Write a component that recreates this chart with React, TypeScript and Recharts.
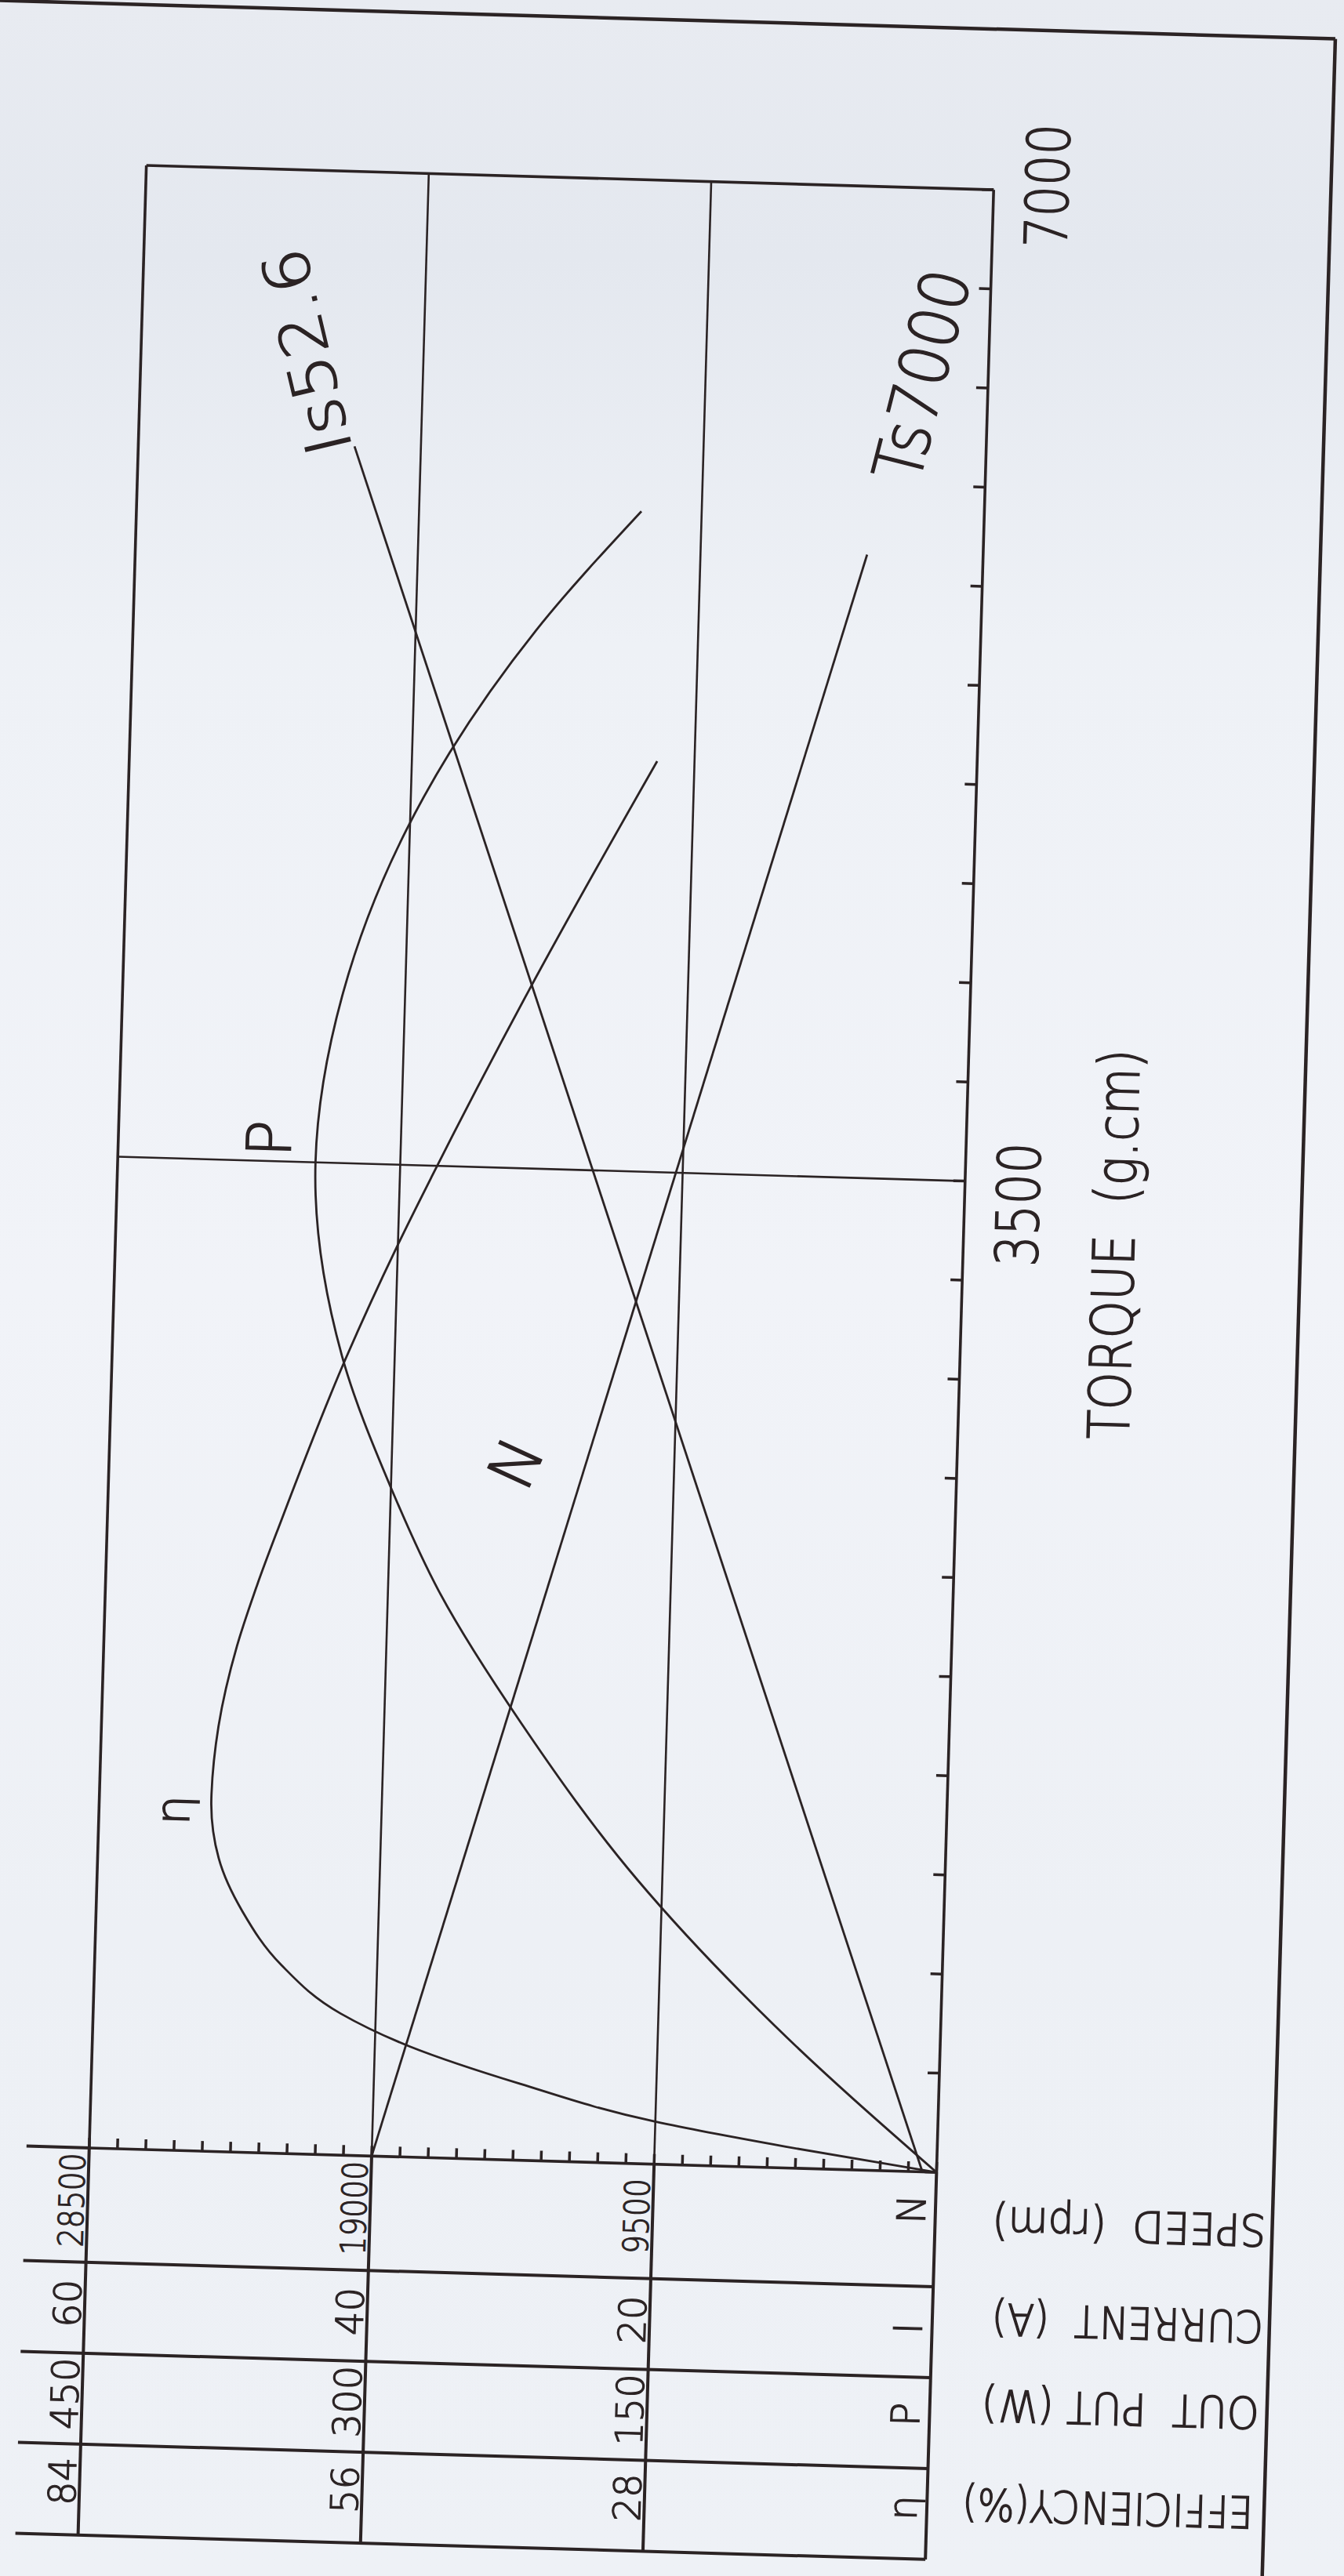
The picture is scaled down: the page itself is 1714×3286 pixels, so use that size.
import React from 'react';
import { LineChart, Line, XAxis, YAxis, ReferenceLine } from 'recharts';

// ---------------- data ----------------
// torque axis (g.cm)
const torqueTicks = [0, 350, 700, 1050, 1400, 1750, 2100, 2450, 2800, 3150, 3500, 3850, 4200, 4550, 4900, 5250, 5600, 5950, 6300, 6650, 7000];
const torqueLabels = [3500, 7000];

// value axes (shared vertical scale)
const speedMinorTicks = [0, 950, 1900, 2850, 3800, 4750, 5700, 6650, 7600, 8550, 9500, 10450, 11400, 12350, 13300, 14250, 15200, 16150, 17100, 18050, 19000, 19950, 20900, 21850, 22800, 23750, 24700, 25650, 26600, 27550, 28500];
const speedTicks = [0, 9500, 19000, 28500];
const currentTicks = [0, 20, 40, 60];
const outputTicks = [0, 150, 300, 450];
const efficiencyTicks = [0, 28, 56, 84];
const rowLetters = ['N', 'I', 'P', 'η'];
const rowTitles = ['SPEED  (rpm)', 'CURRENT  (A)', 'OUT  PUT (W)', 'EFFICIENCY(%)'];

// curves: torque (g.cm) -> value
const speedTorque = [0, 5700];
const speedRpm = [19000, 3900];
const currentTorque = [0, 6030];
const currentAmp = [1.0, 44.7];
const outputTorque = [0, 500, 1000, 1540, 2000, 2360, 2820, 3500, 4100, 4680, 4960, 5400, 5830];
const outputWatt = [0, 88, 163, 227, 273, 300, 328, 345, 333, 302, 280, 236, 182];
const effTorque = [0, 75, 150, 270, 390, 500, 665, 850, 1035, 1245, 1500, 1785, 2000, 2230, 2815, 3210, 3465, 4125, 4950];
const effPct = [0, 15, 28, 41.5, 52.5, 59.5, 65.5, 69.5, 72, 72.9, 72.4, 70.8, 69.0, 66.8, 60.8, 56.1, 52.8, 43.8, 31.7];

const stallCurrentLabel = 'Is52.6';
const stallTorqueLabel = 'Ts7000';
const torqueTitle = 'TORQUE  (g.cm)';

const zip = (ts: number[], vs: number[]) => ts.map((t, i) => ({ t, v: vs[i] }));
const speedData = zip(speedTorque, speedRpm);
const currentData = zip(currentTorque, currentAmp);
const outputData = zip(outputTorque, outputWatt);
const effData = zip(effTorque, effPct);

// ---------------- style / layout ----------------
const INK = '#2b2324';
const FONT = '"DejaVu Sans", "Liberation Sans", Arial, sans-serif';
const CW = 3400;
const CH = 1800;
const MARGIN = { top: 210, right: 276, bottom: 209, left: 94 };
const PL = MARGIN.left + 500; // plot left edge (original frame)

const TXT = { fill: INK, fontFamily: FONT, fontWeight: 200, stroke: INK, strokeWidth: 1.5 } as any;

const colValues = [speedTicks, currentTicks, outputTicks, efficiencyTicks];
const colLabelDX = [-67, -199, -314, -426];
const colLetterDX = [-48, -200, -310, -429];

function TorqueTick(props: any) {
  const { x, y, payload } = props;
  const v = payload.value;
  const shift = v === 3500 ? -28 : 7;
  return (
    <g>
      <line x1={x} y1={y} x2={x} y2={y - 15} stroke={INK} strokeWidth={3.5} />
      {torqueLabels.includes(v) && (
        <text x={x + shift} y={y + 95} textAnchor="middle" fontSize={75} textLength={158}
          lengthAdjust="spacingAndGlyphs" {...TXT}>{v}</text>
      )}
    </g>
  );
}

function ValueTick(props: any) {
  const { y, payload } = props;
  const x = PL;
  const i = speedTicks.indexOf(payload.value);
  return (
    <g>
      <line x1={x} y1={y} x2={x + 13} y2={y} stroke={INK} strokeWidth={3.5} />
      {i >= 0 && <line x1={x - 494} y1={y} x2={x} y2={y} stroke={INK} strokeWidth={4} />}
      {i > 0 && colValues.map((arr, c) => {
        const s = String(arr[i]);
        return (
          <text key={c} x={x + colLabelDX[c]} y={y - 5} textAnchor="middle" {...TXT}
            strokeWidth={1.2} fontSize={c === 0 ? 44 : 48}
            {...(c === 0 ? { textLength: 24 * s.length, lengthAdjust: 'spacingAndGlyphs' } : {})}>{s}</text>
        );
      })}
      {i === 0 && rowLetters.map((L, c) => (
        <text key={c} x={x + colLetterDX[c]} y={y - 13} textAnchor="middle" {...TXT}
          strokeWidth={1.2} fontSize={50}>{L}</text>
      ))}
    </g>
  );
}

function Overlay() {
  const titleBase = [552, 429, 319, 192];
  const titleStart = [1713, 1713, 1711, 1707];
  const titleLen = [349, 346, 354, 371];
  return (
    <svg width={CW} height={CH} style={{ position: 'absolute', left: 0, top: 0, overflow: 'visible', pointerEvents: 'none' }}>
      {/* paper frame */}
      <line x1={3329} y1={-150} x2={3329} y2={1721} stroke={INK} strokeWidth={4.5} />
      <line x1={-150} y1={1721} x2={3329} y2={1721} stroke={INK} strokeWidth={4.5} />
      {/* table column separators */}
      <line x1={PL} y1={130} x2={PL} y2={212} stroke={INK} strokeWidth={4} />
      {[448, 332, 216, 100].map((cx) => (
        <line key={cx} x1={cx} y1={130} x2={cx} y2={1291} stroke={INK} strokeWidth={4} />
      ))}
      {/* column titles */}
      {rowTitles.map((t, c) => (
        <text key={t} x={0} y={0} transform={`translate(${titleBase[c]} ${titleStart[c]}) rotate(-90)`}
          fontSize={56} textLength={titleLen[c]} lengthAdjust="spacingAndGlyphs"
          style={{ whiteSpace: 'pre' }} {...TXT}>{t}</text>
      ))}
      {/* torque axis title */}
      <text x={1784} y={1509} textAnchor="middle" fontSize={73} textLength={498}
        lengthAdjust="spacingAndGlyphs" style={{ whiteSpace: 'pre' }} {...TXT}>{torqueTitle}</text>
      {/* curve labels */}
      <text x={0} y={0} transform="translate(2770 483) rotate(-15)" fontSize={80} textLength={268}
        lengthAdjust="spacingAndGlyphs" {...TXT}>{stallCurrentLabel}</text>
      <text x={0} y={0} transform="translate(2744 1206) rotate(12.6)" fontSize={86} textLength={275}
        lengthAdjust="spacingAndGlyphs" {...TXT}>{stallTorqueLabel}</text>
      <text x={1864} y={430} fontSize={78} {...TXT}>P</text>
      <text x={1028} y={325} fontSize={60} textAnchor="middle" {...TXT}>η</text>
      <text x={0} y={29} transform="translate(1483 728) rotate(23)" fontSize={80} textAnchor="middle" {...TXT}>N</text>
    </svg>
  );
}

export default function App() {
  const transform = 'translate(690px, 1491px) rotate(1.65deg) translate(-690px, -1491px) translate(-60px, 3350px) rotate(-90deg)';
  const line = { stroke: INK, strokeWidth: 2.8, dot: false, activeDot: false, isAnimationActive: false } as any;
  const border = { stroke: INK, strokeWidth: 3.6, xAxisId: 't', yAxisId: 'n' } as any;
  const grid = { stroke: INK, strokeWidth: 2.6, xAxisId: 't', yAxisId: 'n' } as any;
  return (
    <div style={{
      position: 'absolute', left: 0, top: 0, width: 1714, height: 3286, overflow: 'hidden',
      background: 'linear-gradient(180deg, #e8ebf1 0%, #e4e8ef 10%, #eef1f6 25%, #f1f3f8 50%, #edf0f5 75%, #eef1f6 100%)',
    }}>
      <div style={{ position: 'absolute', left: 0, top: 0, width: CW, height: CH, transformOrigin: '0 0', transform }}>
        <LineChart width={CW} height={CH} margin={MARGIN}>
          <XAxis xAxisId="t" dataKey="t" type="number" domain={[0, 7000]} ticks={torqueTicks} interval={0}
            allowDataOverflow height={300} tickSize={0} tickMargin={0} axisLine={false} tickLine={false}
            tick={(p: any) => <TorqueTick {...p} />} />
          <YAxis yAxisId="n" type="number" domain={[0, 28500]} ticks={speedMinorTicks} interval={0}
            allowDataOverflow width={500} tickSize={0} tickMargin={0} axisLine={false} tickLine={false}
            tick={(p: any) => <ValueTick {...p} />} />
          <YAxis yAxisId="i" type="number" domain={[0, 60]} hide allowDataOverflow />
          <YAxis yAxisId="p" type="number" domain={[0, 450]} hide allowDataOverflow />
          <YAxis yAxisId="e" type="number" domain={[0, 84]} hide allowDataOverflow />

          <ReferenceLine y={9500} {...grid} />
          <ReferenceLine y={19000} {...grid} />
          <ReferenceLine x={3500} {...grid} />
          <ReferenceLine y={0} {...border} />
          <ReferenceLine y={28500} {...border} />
          <ReferenceLine x={0} {...border} />
          <ReferenceLine x={7000} {...border} />

          <Line xAxisId="t" yAxisId="n" data={speedData} dataKey="v" type="linear" {...line} />
          <Line xAxisId="t" yAxisId="i" data={currentData} dataKey="v" type="linear" {...line} />
          <Line xAxisId="t" yAxisId="p" data={outputData} dataKey="v" type="monotone" {...line} />
          <Line xAxisId="t" yAxisId="e" data={effData} dataKey="v" type="monotone" {...line} />
        </LineChart>
        <Overlay />
      </div>
    </div>
  );
}
